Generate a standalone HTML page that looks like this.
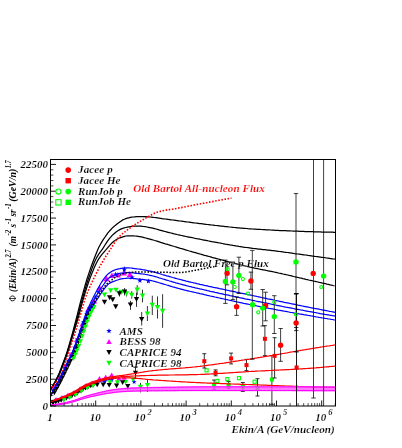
<!DOCTYPE html>
<html><head><meta charset="utf-8"><title>flux</title>
<style>html,body{margin:0;padding:0;background:#fff;}svg{display:block;will-change:transform;}text{font-family:"Liberation Serif",serif;font-weight:bold;font-style:italic;stroke:#fff;stroke-width:0.16px;paint-order:fill stroke;}</style>
</head><body>
<svg width="402" height="448" viewBox="0 0 402 448">
<rect width="402" height="448" fill="#fff"/>
<defs><clipPath id="cp"><rect x="50.5" y="159.5" width="285" height="246.5"/></clipPath></defs>
<g clip-path="url(#cp)">
<path d="M53.5 387.8L54.1 389.5L56 389.6L54.5 390.7L55 392.5L53.5 391.5L52 392.5L52.5 390.7L51 389.6L52.9 389.5Z" fill="#0000ff"/>
<path d="M56.5 382.4L57.1 384.1L59 384.2L57.5 385.3L58 387.1L56.5 386.1L55 387.1L55.5 385.3L54 384.2L55.9 384.1Z" fill="#0000ff"/>
<path d="M59.5 376.7L60.1 378.5L62 378.5L60.5 379.7L61 381.4L59.5 380.4L58 381.4L58.5 379.7L57 378.5L58.9 378.5Z" fill="#0000ff"/>
<path d="M62.5 370.8L63.1 372.5L65 372.6L63.5 373.7L64 375.5L62.5 374.5L61 375.5L61.5 373.7L60 372.6L61.9 372.5Z" fill="#0000ff"/>
<path d="M65.5 364.5L66.1 366.3L68 366.3L66.5 367.5L67 369.2L65.5 368.2L64 369.2L64.5 367.5L63 366.3L64.9 366.3Z" fill="#0000ff"/>
<path d="M68.5 358.3L69.1 360L71 360.1L69.5 361.2L70 363L68.5 362L67 363L67.5 361.2L66 360.1L67.9 360Z" fill="#0000ff"/>
<path d="M71.5 352L72.1 353.7L74 353.8L72.5 354.9L73 356.7L71.5 355.7L70 356.7L70.5 354.9L69 353.8L70.9 353.7Z" fill="#0000ff"/>
<path d="M74.5 344.9L75.1 346.6L77 346.7L75.5 347.8L76 349.6L74.5 348.6L73 349.6L73.5 347.8L72 346.7L73.9 346.6Z" fill="#0000ff"/>
<path d="M77.5 336.5L78.1 338.3L80 338.3L78.5 339.5L79 341.2L77.5 340.2L76 341.2L76.5 339.5L75 338.3L76.9 338.3Z" fill="#0000ff"/>
<path d="M80.5 328L81.1 329.7L83 329.7L81.5 330.9L82 332.7L80.5 331.6L79 332.7L79.5 330.9L78 329.7L79.9 329.7Z" fill="#0000ff"/>
<path d="M83.5 319.3L84.1 321L86 321.1L84.5 322.3L85 324L83.5 323L82 324L82.5 322.3L81 321.1L82.9 321Z" fill="#0000ff"/>
<path d="M86.5 311.2L87.1 312.9L89 313L87.5 314.1L88 315.9L86.5 314.9L85 315.9L85.5 314.1L84 313L85.9 312.9Z" fill="#0000ff"/>
<path d="M89.5 305.3L90.1 307L92 307.1L90.5 308.2L91 310L89.5 309L88 310L88.5 308.2L87 307.1L88.9 307Z" fill="#0000ff"/>
<path d="M92.5 300.1L93.1 301.8L95 301.9L93.5 303L94 304.8L92.5 303.8L91 304.8L91.5 303L90 301.9L91.9 301.8Z" fill="#0000ff"/>
<path d="M95.5 294.7L96.1 296.4L98 296.5L96.5 297.6L97 299.4L95.5 298.4L94 299.4L94.5 297.6L93 296.5L94.9 296.4Z" fill="#0000ff"/>
<path d="M98.5 289.5L99.1 291.2L101 291.3L99.5 292.4L100 294.2L98.5 293.2L97 294.2L97.5 292.4L96 291.3L97.9 291.2Z" fill="#0000ff"/>
<path d="M51.9 389.3L56.7 389.3L54.3 385Z" fill="#ff00ff"/>
<path d="M57.4 379L62.2 379L59.8 374.7Z" fill="#ff00ff"/>
<path d="M62.9 367.7L67.7 367.7L65.3 363.4Z" fill="#ff00ff"/>
<path d="M68.4 356.2L73.2 356.2L70.8 351.9Z" fill="#ff00ff"/>
<path d="M73.9 342.2L78.7 342.2L76.3 337.9Z" fill="#ff00ff"/>
<path d="M79.4 326.5L84.2 326.5L81.8 322.2Z" fill="#ff00ff"/>
<path d="M84.9 312.2L89.7 312.2L87.3 307.9Z" fill="#ff00ff"/>
<path d="M51.8 390.5L57 390.5L54.4 395.2Z" fill="#000000"/>
<path d="M53.8 386.9L59 386.9L56.4 391.6Z" fill="#000000"/>
<path d="M55.8 383.3L61 383.3L58.4 388Z" fill="#000000"/>
<path d="M57.8 379.5L63 379.5L60.4 384.2Z" fill="#000000"/>
<path d="M59.8 375.6L65 375.6L62.4 380.3Z" fill="#000000"/>
<path d="M61.8 371.6L67 371.6L64.4 376.2Z" fill="#000000"/>
<path d="M63.8 367.4L69 367.4L66.4 372.1Z" fill="#000000"/>
<path d="M65.8 363.2L71 363.2L68.4 367.9Z" fill="#000000"/>
<path d="M67.8 359.1L73 359.1L70.4 363.8Z" fill="#000000"/>
<path d="M69.8 354.9L75 354.9L72.4 359.6Z" fill="#000000"/>
<path d="M71.8 350.4L77 350.4L74.4 355.1Z" fill="#000000"/>
<path d="M73.8 345.4L79 345.4L76.4 350.1Z" fill="#000000"/>
<path d="M75.8 339.8L81 339.8L78.4 344.5Z" fill="#000000"/>
<path d="M77.8 334L83 334L80.4 338.7Z" fill="#000000"/>
<path d="M79.8 328.4L85 328.4L82.4 333.1Z" fill="#000000"/>
<path d="M81.8 322.6L87 322.6L84.4 327.3Z" fill="#000000"/>
<path d="M83.8 316.9L89 316.9L86.4 321.6Z" fill="#000000"/>
<path d="M85.8 311.9L91 311.9L88.4 316.6Z" fill="#000000"/>
<path d="M87.8 308L93 308L90.4 312.7Z" fill="#000000"/>
<path d="M89.8 304.6L95 304.6L92.4 309.3Z" fill="#000000"/>
<path d="M70.8 356.2L76.2 356.2L73.5 361Z" fill="#00ff00"/>
<path d="M72.5 352.5L77.9 352.5L75.2 357.3Z" fill="#00ff00"/>
<path d="M74.2 348.5L79.6 348.5L76.9 353.3Z" fill="#00ff00"/>
<path d="M75.9 344L81.3 344L78.6 348.8Z" fill="#00ff00"/>
<path d="M77.6 339.2L83 339.2L80.3 344Z" fill="#00ff00"/>
<path d="M79.3 334.2L84.7 334.2L82 339.1Z" fill="#00ff00"/>
<path d="M81 329.4L86.4 329.4L83.7 334.3Z" fill="#00ff00"/>
<path d="M82.7 324.6L88.1 324.6L85.4 329.4Z" fill="#00ff00"/>
<path d="M84.4 319.6L89.8 319.6L87.1 324.5Z" fill="#00ff00"/>
<path d="M86.1 315L91.5 315L88.8 319.8Z" fill="#00ff00"/>
<path d="M87.8 311L93.2 311L90.5 315.9Z" fill="#00ff00"/>
<path d="M89.5 307.9L94.9 307.9L92.2 312.7Z" fill="#00ff00"/>
<path d="M91.2 305L96.6 305L93.9 309.8Z" fill="#00ff00"/>
<path d="M90.9 303.5L97.1 303.5L94 297.9Z" fill="#ff00ff"/>
<path d="M96.5 290.5L102.7 290.5L99.6 284.9Z" fill="#ff00ff"/>
<path d="M103.4 281.2L109.6 281.2L106.5 275.6Z" fill="#ff00ff"/>
<path d="M108.8 278.1L115 278.1L111.9 272.5Z" fill="#ff00ff"/>
<path d="M114.8 277.5L121 277.5L117.9 271.9Z" fill="#ff00ff"/>
<path d="M120.8 275.5L127 275.5L123.9 269.9Z" fill="#ff00ff"/>
<path d="M126.8 276.9L133 276.9L129.9 271.3Z" fill="#ff00ff"/>
<path d="M115.7 271.6L116.4 273.4L118.4 273.5L116.8 274.8L117.3 276.7L115.7 275.6L114.1 276.7L114.6 274.8L113 273.5L115 273.4Z" fill="#0000ff"/>
<path d="M124.3 266.5L124.3 272.5" stroke="#0000ff" stroke-width="0.8" />
<path d="M124.3 266.7L125 268.5L127 268.6L125.4 269.9L125.9 271.8L124.3 270.7L122.7 271.8L123.2 269.9L121.6 268.6L123.6 268.5Z" fill="#0000ff"/>
<path d="M132 274.6L132.7 276.4L134.7 276.5L133.1 277.8L133.6 279.7L132 278.6L130.4 279.7L130.9 277.8L129.3 276.5L131.3 276.4Z" fill="#0000ff"/>
<path d="M139.9 277.8L140.6 279.6L142.6 279.7L141 281L141.5 282.9L139.9 281.8L138.3 282.9L138.8 281L137.2 279.7L139.2 279.6Z" fill="#0000ff"/>
<path d="M148.4 278.4L149.1 280.2L151.1 280.3L149.5 281.6L150 283.5L148.4 282.4L146.8 283.5L147.3 281.6L145.7 280.3L147.7 280.2Z" fill="#0000ff"/>
<path d="M101.8 292.4L107.2 292.4L104.5 297.3Z" fill="#00ff00"/>
<path d="M108 288.2L113.4 288.2L110.7 293.1Z" fill="#00ff00"/>
<path d="M113.3 287.8L118.7 287.8L116 292.7Z" fill="#00ff00"/>
<path d="M121.6 291L121.6 294" stroke="#000000" stroke-width="0.8" />
<path d="M118.9 289.8L124.3 289.8L121.6 294.7Z" fill="#00ff00"/>
<path d="M126.5 290.5L126.5 296.5" stroke="#000000" stroke-width="0.8" />
<path d="M123.8 291.2L129.2 291.2L126.5 296.1Z" fill="#00ff00"/>
<path d="M131.7 291.2L131.7 298.7" stroke="#000000" stroke-width="0.8" />
<path d="M129 292.7L134.4 292.7L131.7 297.6Z" fill="#00ff00"/>
<path d="M137.2 285.2L137.2 295" stroke="#000000" stroke-width="0.8" />
<path d="M134.5 287.5L139.9 287.5L137.2 292.4Z" fill="#00ff00"/>
<path d="M142.5 289.7L142.5 302.4" stroke="#000000" stroke-width="0.8" />
<path d="M139.8 293.5L145.2 293.5L142.5 298.4Z" fill="#00ff00"/>
<path d="M147.4 306L147.4 321" stroke="#000000" stroke-width="0.8" />
<path d="M144.7 311.4L150.1 311.4L147.4 316.3Z" fill="#00ff00"/>
<path d="M152.3 295.7L152.3 315" stroke="#000000" stroke-width="0.8" />
<path d="M149.6 302.8L155 302.8L152.3 307.7Z" fill="#00ff00"/>
<path d="M157.5 296.4L157.5 318.5" stroke="#000000" stroke-width="0.8" />
<path d="M154.8 305L160.2 305L157.5 309.9Z" fill="#00ff00"/>
<path d="M162.6 294.2L162.6 327.8" stroke="#000000" stroke-width="0.8" />
<path d="M159.9 308.8L165.3 308.8L162.6 313.7Z" fill="#00ff00"/>
<path d="M101.8 299.8L107.2 299.8L104.5 304.7Z" fill="#000000"/>
<path d="M107 295.3L112.4 295.3L109.7 300.2Z" fill="#000000"/>
<path d="M110 297.3L115.4 297.3L112.7 302.2Z" fill="#000000"/>
<path d="M113 304.3L118.4 304.3L115.7 309.2Z" fill="#000000"/>
<path d="M119.4 290.5L119.4 296.5" stroke="#000000" stroke-width="0.8" />
<path d="M116.7 291.3L122.1 291.3L119.4 296.2Z" fill="#000000"/>
<path d="M124.6 288L124.6 295.5" stroke="#000000" stroke-width="0.8" />
<path d="M121.9 289.4L127.3 289.4L124.6 294.3Z" fill="#000000"/>
<path d="M130.5 300.9L130.5 309.9" stroke="#000000" stroke-width="0.8" />
<path d="M127.8 302.4L133.2 302.4L130.5 307.3Z" fill="#000000"/>
<path d="M136.5 292.7L136.5 306.9" stroke="#000000" stroke-width="0.8" />
<path d="M133.8 296.9L139.2 296.9L136.5 301.8Z" fill="#000000"/>
<path d="M141.7 312L141.7 325.5" stroke="#000000" stroke-width="0.8" />
<path d="M139 316.9L144.4 316.9L141.7 321.8Z" fill="#000000"/>
<path d="M52 399.2L52.6 400.8L54.4 400.9L53 402L53.5 403.7L52 402.7L50.5 403.7L51 402L49.6 400.9L51.4 400.8Z" fill="#0000ff"/>
<path d="M55 398.2L55.6 399.9L57.4 399.9L56 401L56.5 402.7L55 401.8L53.5 402.7L54 401L52.6 399.9L54.4 399.9Z" fill="#0000ff"/>
<path d="M58 397.2L58.6 398.9L60.4 398.9L59 400L59.5 401.7L58 400.8L56.5 401.7L57 400L55.6 398.9L57.4 398.9Z" fill="#0000ff"/>
<path d="M61 396.1L61.6 397.8L63.4 397.9L62 399L62.5 400.7L61 399.7L59.5 400.7L60 399L58.6 397.9L60.4 397.8Z" fill="#0000ff"/>
<path d="M64 395L64.6 396.7L66.4 396.7L65 397.8L65.5 399.5L64 398.6L62.5 399.5L63 397.8L61.6 396.7L63.4 396.7Z" fill="#0000ff"/>
<path d="M67 393.8L67.6 395.5L69.4 395.6L68 396.7L68.5 398.4L67 397.4L65.5 398.4L66 396.7L64.6 395.6L66.4 395.5Z" fill="#0000ff"/>
<path d="M70 392.6L70.6 394.2L72.4 394.3L71 395.4L71.5 397.1L70 396.1L68.5 397.1L69 395.4L67.6 394.3L69.4 394.2Z" fill="#0000ff"/>
<path d="M73 391.2L73.6 392.9L75.4 392.9L74 394L74.5 395.7L73 394.8L71.5 395.7L72 394L70.6 392.9L72.4 392.9Z" fill="#0000ff"/>
<path d="M76 389.6L76.6 391.2L78.4 391.3L77 392.4L77.5 394.1L76 393.1L74.5 394.1L75 392.4L73.6 391.3L75.4 391.2Z" fill="#0000ff"/>
<path d="M79 387.7L79.6 389.3L81.4 389.4L80 390.5L80.5 392.2L79 391.2L77.5 392.2L78 390.5L76.6 389.4L78.4 389.3Z" fill="#0000ff"/>
<path d="M82 385.8L82.6 387.4L84.4 387.5L83 388.6L83.5 390.3L82 389.3L80.5 390.3L81 388.6L79.6 387.5L81.4 387.4Z" fill="#0000ff"/>
<path d="M85 384.1L85.6 385.8L87.4 385.9L86 387L86.5 388.7L85 387.7L83.5 388.7L84 387L82.6 385.9L84.4 385.8Z" fill="#0000ff"/>
<path d="M88 382.8L88.6 384.4L90.4 384.5L89 385.6L89.5 387.3L88 386.3L86.5 387.3L87 385.6L85.6 384.5L87.4 384.4Z" fill="#0000ff"/>
<path d="M91 381.5L91.6 383.2L93.4 383.3L92 384.4L92.5 386.1L91 385.1L89.5 386.1L90 384.4L88.6 383.3L90.4 383.2Z" fill="#0000ff"/>
<path d="M94 380.4L94.6 382.1L96.4 382.1L95 383.2L95.5 384.9L94 384L92.5 384.9L93 383.2L91.6 382.1L93.4 382.1Z" fill="#0000ff"/>
<path d="M97 379.4L97.6 381.1L99.4 381.1L98 382.2L98.5 383.9L97 383L95.5 383.9L96 382.2L94.6 381.1L96.4 381.1Z" fill="#0000ff"/>
<path d="M100 378.5L100.6 380.1L102.4 380.2L101 381.3L101.5 383L100 382L98.5 383L99 381.3L97.6 380.2L99.4 380.1Z" fill="#0000ff"/>
<path d="M103 377.6L103.6 379.3L105.4 379.4L104 380.5L104.5 382.2L103 381.2L101.5 382.2L102 380.5L100.6 379.4L102.4 379.3Z" fill="#0000ff"/>
<path d="M106 376.9L106.6 378.5L108.4 378.6L107 379.7L107.5 381.4L106 380.4L104.5 381.4L105 379.7L103.6 378.6L105.4 378.5Z" fill="#0000ff"/>
<path d="M109 376.3L109.6 377.9L111.4 378L110 379.1L110.5 380.8L109 379.8L107.5 380.8L108 379.1L106.6 378L108.4 377.9Z" fill="#0000ff"/>
<path d="M53.5 401.6L58.5 401.6L56 397.1Z" fill="#ff00ff"/>
<path d="M59.5 399.5L64.5 399.5L62 395Z" fill="#ff00ff"/>
<path d="M65.5 397.1L70.5 397.1L68 392.6Z" fill="#ff00ff"/>
<path d="M71.5 394.4L76.5 394.4L74 389.9Z" fill="#ff00ff"/>
<path d="M77.5 390.7L82.5 390.7L80 386.2Z" fill="#ff00ff"/>
<path d="M83.5 387.4L88.5 387.4L86 382.9Z" fill="#ff00ff"/>
<path d="M89.5 384.9L94.5 384.9L92 380.4Z" fill="#ff00ff"/>
<path d="M50.5 400.9L55.5 400.9L53 405.4Z" fill="#000000"/>
<path d="M53.2 400.1L58.2 400.1L55.7 404.6Z" fill="#000000"/>
<path d="M55.9 399.2L60.9 399.2L58.4 403.7Z" fill="#000000"/>
<path d="M58.6 398.2L63.6 398.2L61.1 402.7Z" fill="#000000"/>
<path d="M61.3 397.2L66.3 397.2L63.8 401.7Z" fill="#000000"/>
<path d="M64 396.1L69 396.1L66.5 400.6Z" fill="#000000"/>
<path d="M66.7 395L71.7 395L69.2 399.5Z" fill="#000000"/>
<path d="M69.4 393.8L74.4 393.8L71.9 398.3Z" fill="#000000"/>
<path d="M72.1 392.5L77.1 392.5L74.6 397Z" fill="#000000"/>
<path d="M74.8 390.9L79.8 390.9L77.3 395.4Z" fill="#000000"/>
<path d="M77.5 389.1L82.5 389.1L80 393.6Z" fill="#000000"/>
<path d="M80.2 387.5L85.2 387.5L82.7 392Z" fill="#000000"/>
<path d="M82.9 386L87.9 386L85.4 390.5Z" fill="#000000"/>
<path d="M85.6 384.8L90.6 384.8L88.1 389.3Z" fill="#000000"/>
<path d="M88.3 383.7L93.3 383.7L90.8 388.2Z" fill="#000000"/>
<path d="M91 382.7L96 382.7L93.5 387.2Z" fill="#000000"/>
<path d="M61.5 397.9L66.5 397.9L64 402.4Z" fill="#00ff00"/>
<path d="M67.3 395.6L72.3 395.6L69.8 400.1Z" fill="#00ff00"/>
<path d="M73.1 392.9L78.1 392.9L75.6 397.4Z" fill="#00ff00"/>
<path d="M78.9 389.3L83.9 389.3L81.4 393.8Z" fill="#00ff00"/>
<path d="M84.7 386.1L89.7 386.1L87.2 390.6Z" fill="#00ff00"/>
<path d="M90.5 383.7L95.5 383.7L93 388.2Z" fill="#00ff00"/>
<path d="M96.9 380.8L102.1 380.8L99.5 376.1Z" fill="#ff00ff"/>
<path d="M103.1 379.3L108.3 379.3L105.7 374.6Z" fill="#ff00ff"/>
<path d="M109.1 377.1L114.3 377.1L111.7 372.4Z" fill="#ff00ff"/>
<path d="M116.3 380.5L121.5 380.5L118.9 375.8Z" fill="#ff00ff"/>
<path d="M121.5 379.7L126.7 379.7L124.1 375Z" fill="#ff00ff"/>
<path d="M104.7 379L105.3 380.7L107.2 380.8L105.7 381.9L106.2 383.7L104.7 382.7L103.2 383.7L103.7 381.9L102.2 380.8L104.1 380.7Z" fill="#0000ff"/>
<path d="M111.7 377.4L112.3 379.1L114.2 379.2L112.7 380.3L113.2 382.1L111.7 381.1L110.2 382.1L110.7 380.3L109.2 379.2L111.1 379.1Z" fill="#0000ff"/>
<path d="M134.1 379.4L134.7 381.1L136.6 381.2L135.1 382.3L135.6 384.1L134.1 383.1L132.6 384.1L133.1 382.3L131.6 381.2L133.5 381.1Z" fill="#0000ff"/>
<path d="M107.4 380.3L112.6 380.3L110 385Z" fill="#00ff00"/>
<path d="M114.8 380.3L120 380.3L117.4 385Z" fill="#00ff00"/>
<path d="M123 379.9L128.2 379.9L125.6 384.6Z" fill="#00ff00"/>
<path d="M130.4 377.4L135.6 377.4L133 382.1Z" fill="#00ff00"/>
<path d="M140.5 382.9L140.5 392.4" stroke="#000000" stroke-width="0.8" />
<path d="M137.9 384.8L143.1 384.8L140.5 389.5Z" fill="#00ff00"/>
<path d="M147.5 380L147.5 392" stroke="#000000" stroke-width="0.8" />
<path d="M144.9 382.9L150.1 382.9L147.5 387.6Z" fill="#00ff00"/>
<path d="M94.6 382.5L99.8 382.5L97.2 387.2Z" fill="#000000"/>
<path d="M100.6 382.5L105.8 382.5L103.2 387.2Z" fill="#000000"/>
<path d="M106.6 382.9L111.8 382.9L109.2 387.6Z" fill="#000000"/>
<path d="M114 383.6L119.2 383.6L116.6 388.3Z" fill="#000000"/>
<path d="M120 380.3L125.2 380.3L122.6 385Z" fill="#000000"/>
<path d="M127.8 384.1L127.8 390.1" stroke="#000000" stroke-width="0.8" />
<path d="M125.2 384L130.4 384L127.8 388.7Z" fill="#000000"/>
<path d="M135.5 367.4L135.5 378.4" stroke="#000000" stroke-width="0.8" />
<path d="M133.5 367.4L137.5 367.4" stroke="#000000" stroke-width="0.8" />
<path d="M133.5 378.4L137.5 378.4" stroke="#000000" stroke-width="0.8" />
<path d="M132.9 370.8L138.1 370.8L135.5 375.5Z" fill="#000000"/>
</g>
<g clip-path="url(#cp)">
<path d="M214.1 380L214.1 389.3" stroke="#000000" stroke-width="0.8" />
<path d="M212.1 380L216.1 380" stroke="#000000" stroke-width="0.8" />
<path d="M212.1 389.3L216.1 389.3" stroke="#000000" stroke-width="0.8" />
<rect x="212.1" y="382.8" width="4" height="4" fill="#00ff00"/>
<path d="M228.6 381.5L228.6 388.2" stroke="#000000" stroke-width="0.8" />
<path d="M226.6 381.5L230.6 381.5" stroke="#000000" stroke-width="0.8" />
<path d="M226.6 388.2L230.6 388.2" stroke="#000000" stroke-width="0.8" />
<rect x="226.6" y="382.8" width="4" height="4" fill="#00ff00"/>
<path d="M242.8 382.5L242.8 391.5" stroke="#000000" stroke-width="0.8" />
<path d="M240.8 382.5L244.8 382.5" stroke="#000000" stroke-width="0.8" />
<path d="M240.8 391.5L244.8 391.5" stroke="#000000" stroke-width="0.8" />
<rect x="240.8" y="384.6" width="4" height="4" fill="#00ff00"/>
<path d="M257.5 378.7L257.5 396" stroke="#000000" stroke-width="0.8" />
<path d="M255.5 378.7L259.5 378.7" stroke="#000000" stroke-width="0.8" />
<path d="M255.5 396L259.5 396" stroke="#000000" stroke-width="0.8" />
<rect x="255.5" y="386" width="4" height="4" fill="#00ff00"/>
<path d="M271.9 355.6L271.9 404.3" stroke="#000000" stroke-width="0.8" />
<path d="M269.9 355.6L273.9 355.6" stroke="#000000" stroke-width="0.8" />
<path d="M269.9 404.3L273.9 404.3" stroke="#000000" stroke-width="0.8" />
<rect x="269.9" y="377.5" width="4" height="4" fill="#00ff00"/>
<rect x="205" y="368.8" width="3.1" height="3.1" fill="none" stroke="#00ff00" stroke-width="1.1"/>
<rect x="215.8" y="379.4" width="3.1" height="3.1" fill="none" stroke="#00ff00" stroke-width="1.1"/>
<rect x="225.8" y="377.6" width="3.1" height="3.1" fill="none" stroke="#00ff00" stroke-width="1.1"/>
<rect x="237.4" y="376.6" width="3.1" height="3.1" fill="none" stroke="#00ff00" stroke-width="1.1"/>
<rect x="253.1" y="380.2" width="3.1" height="3.1" fill="none" stroke="#00ff00" stroke-width="1.1"/>
<path d="M204.3 353.7L204.3 368" stroke="#000000" stroke-width="0.8" />
<path d="M202.3 353.7L206.3 353.7" stroke="#000000" stroke-width="0.8" />
<path d="M202.3 368L206.3 368" stroke="#000000" stroke-width="0.8" />
<path d="M215.6 369.9L215.6 375.8" stroke="#000000" stroke-width="0.8" />
<path d="M213.6 369.9L217.6 369.9" stroke="#000000" stroke-width="0.8" />
<path d="M213.6 375.8L217.6 375.8" stroke="#000000" stroke-width="0.8" />
<path d="M231.1 353.1L231.1 363.9" stroke="#000000" stroke-width="0.8" />
<path d="M229.1 353.1L233.1 353.1" stroke="#000000" stroke-width="0.8" />
<path d="M229.1 363.9L233.1 363.9" stroke="#000000" stroke-width="0.8" />
<path d="M246.5 359.4L246.5 370.6" stroke="#000000" stroke-width="0.8" />
<path d="M244.5 359.4L248.5 359.4" stroke="#000000" stroke-width="0.8" />
<path d="M244.5 370.6L248.5 370.6" stroke="#000000" stroke-width="0.8" />
<path d="M264.9 325.7L264.9 355.6" stroke="#000000" stroke-width="0.8" />
<path d="M262.9 325.7L266.9 325.7" stroke="#000000" stroke-width="0.8" />
<path d="M262.9 355.6L266.9 355.6" stroke="#000000" stroke-width="0.8" />
<path d="M274.6 337.7L274.6 378" stroke="#000000" stroke-width="0.8" />
<path d="M272.6 337.7L276.6 337.7" stroke="#000000" stroke-width="0.8" />
<path d="M272.6 378L276.6 378" stroke="#000000" stroke-width="0.8" />
</g>
<g clip-path="url(#cp)">
<path d="M50.4 389.4 51.9 387.3 53.4 384.8 54.9 382.1 56.4 379.2 57.9 376 59.4 372.7 60.9 368.8 62.4 364.7 63.9 360.6 65.5 356.4 67 352 68.5 347.2 70 342 71.5 336.6 73 331.1 74.5 325.5 76 319.7 77.5 313.9 79 307.8 80.5 301.8 82.1 296.1 83.6 290.6 85.1 285.3 86.6 280.3 88.1 275.6 89.6 271.1 91.1 266.8 92.6 262.7 94.1 258.7 95.6 254.9 97.1 251.2 98.6 247.8 100.2 244.7 101.7 242.1 103.2 239.7 104.7 237.5 106.2 235.3 107.7 233.2 109.2 231.3 110.7 229.7 112.2 228.1 113.7 226.7 115.2 225.4 116.7 224.2 118.3 223 119.8 221.9 121.3 220.9 122.8 219.9 124.3 219.2 125.8 218.6 127.3 218.2 128.8 217.8 130.3 217.4 131.8 217.2 133.3 217 134.9 216.8 136.4 216.7 137.9 216.6 139.4 216.5 140.9 216.5 142.4 216.5 143.9 216.6 145.4 216.7 146.9 216.8 148.4 216.9 149.9 217 151.4 217.1 153 217.3 154.5 217.5 156 217.7 157.5 217.9 159 218.1 160.5 218.3 162 218.6 163.5 218.8 165 219 166.5 219.2 168 219.4 169.6 219.6 171.1 219.8 172.6 220 174.1 220.2 175.6 220.4 177.1 220.6 178.6 220.8 180.1 221 181.6 221.2 183.1 221.4 184.6 221.6 186.1 221.8 187.7 222 189.2 222.2 190.7 222.4 192.2 222.6 193.7 222.8 195.2 223 196.7 223.2 198.2 223.4 199.7 223.6 201.2 223.7 202.7 223.9 204.2 224.1 205.8 224.3 207.3 224.5 208.8 224.6 210.3 224.8 211.8 225 213.3 225.2 214.8 225.4 216.3 225.5 217.8 225.7 219.3 225.9 220.8 226.1 222.4 226.2 223.9 226.4 225.4 226.6 226.9 226.7 228.4 226.9 229.9 227 231.4 227.2 232.9 227.3 234.4 227.5 235.9 227.6 237.4 227.8 238.9 227.9 240.5 228.1 242 228.2 243.5 228.3 245 228.4 246.5 228.5 248 228.7 249.5 228.8 251 228.9 252.5 229 254 229.1 255.5 229.2 257.1 229.3 258.6 229.3 260.1 229.4 261.6 229.5 263.1 229.6 264.6 229.7 266.1 229.8 267.6 229.9 269.1 229.9 270.6 230 272.1 230.1 273.6 230.2 275.2 230.3 276.7 230.3 278.2 230.4 279.7 230.5 281.2 230.5 282.7 230.6 284.2 230.7 285.7 230.7 287.2 230.8 288.7 230.9 290.2 230.9 291.7 231 293.3 231.1 294.8 231.1 296.3 231.2 297.8 231.2 299.3 231.3 300.8 231.3 302.3 231.4 303.8 231.4 305.3 231.5 306.8 231.5 308.3 231.6 309.9 231.6 311.4 231.7 312.9 231.7 314.4 231.8 315.9 231.8 317.4 231.9 318.9 231.9 320.4 231.9 321.9 232 323.4 232 324.9 232.1 326.4 232.1 328 232.1 329.5 232.2 331 232.2 332.5 232.2 334 232.3 335.5 232.3" fill="none" stroke="#000" stroke-width="1.25" />
<path d="M50.4 389.6 51.9 387.5 53.4 385.1 54.9 382.4 56.4 379.6 57.9 376.5 59.4 373.3 60.9 369.6 62.4 365.6 64 361.5 65.5 357.4 67 353.1 68.5 348.5 70 343.6 71.5 338.4 73 333.1 74.5 327.9 76 322.5 77.5 317.1 79 311.5 80.5 305.6 82.1 299.8 83.6 294.4 85.1 289.2 86.6 284.3 88.1 279.6 89.6 275.2 91.1 271 92.6 266.9 94.1 263.1 95.6 259.7 97.1 256.8 98.6 254.4 100.2 252.2 101.7 250.1 103.2 247.9 104.7 245.5 106.2 243.1 107.7 240.9 109.2 238.9 110.7 237.1 112.2 235.4 113.7 234 115.2 232.7 116.7 231.5 118.3 230.5 119.8 229.6 121.3 228.9 122.8 228.3 124.3 227.9 125.8 227.5 127.3 227.1 128.8 226.8 130.3 226.6 131.8 226.4 133.3 226.2 134.8 226 136.4 226 137.9 226 139.4 226.1 140.9 226.2 142.4 226.3 143.9 226.5 145.4 226.7 146.9 227 148.4 227.3 149.9 227.6 151.4 227.9 152.9 228.2 154.4 228.6 156 229 157.5 229.4 159 229.9 160.5 230.3 162 230.7 163.5 231.1 165 231.5 166.5 231.9 168 232.3 169.5 232.7 171 233 172.5 233.4 174.1 233.8 175.6 234.1 177.1 234.5 178.6 234.8 180.1 235.2 181.6 235.5 183.1 235.8 184.6 236.2 186.1 236.5 187.6 236.8 189.1 237.1 190.6 237.4 192.2 237.7 193.7 238 195.2 238.4 196.7 238.7 198.2 238.9 199.7 239.2 201.2 239.5 202.7 239.8 204.2 240.1 205.7 240.4 207.2 240.7 208.7 241 210.3 241.3 211.8 241.6 213.3 241.8 214.8 242.1 216.3 242.4 217.8 242.7 219.3 243 220.8 243.2 222.3 243.5 223.8 243.8 225.3 244.1 226.8 244.3 228.4 244.6 229.9 244.9 231.4 245.1 232.9 245.4 234.4 245.6 235.9 245.9 237.4 246.1 238.9 246.4 240.4 246.6 241.9 246.8 243.4 247.1 244.9 247.3 246.5 247.5 248 247.7 249.5 247.9 251 248.1 252.5 248.3 254 248.5 255.5 248.7 257 248.9 258.5 249.1 260 249.2 261.5 249.4 263 249.6 264.6 249.7 266.1 249.9 267.6 250.1 269.1 250.2 270.6 250.4 272.1 250.6 273.6 250.7 275.1 250.9 276.6 251.1 278.1 251.3 279.6 251.5 281.1 251.6 282.7 251.8 284.2 252.1 285.7 252.3 287.2 252.5 288.7 252.7 290.2 252.9 291.7 253.1 293.2 253.3 294.7 253.6 296.2 253.8 297.7 254 299.2 254.2 300.8 254.4 302.3 254.6 303.8 254.8 305.3 255 306.8 255.2 308.3 255.5 309.8 255.7 311.3 255.9 312.8 256.1 314.3 256.3 315.8 256.5 317.3 256.7 318.8 256.9 320.4 257.1 321.9 257.3 323.4 257.5 324.9 257.7 326.4 258 327.9 258.2 329.4 258.4 330.9 258.6 332.4 258.8 333.9 259 335.4 259.2" fill="none" stroke="#000" stroke-width="1.25" />
<path d="M50.4 389.8 51.9 387.7 53.4 385.4 54.9 382.8 56.4 380 57.9 377 59.5 373.9 61 370.4 62.5 366.5 64 362.5 65.5 358.5 67 354.3 68.5 349.9 70 345.2 71.5 340.1 73.1 334.9 74.6 329.8 76.1 324.7 77.6 319.7 79.1 314.5 80.6 309 82.1 303.2 83.6 297.8 85.1 292.7 86.7 287.8 88.2 283.2 89.7 279 91.2 275.1 92.7 271.4 94.2 267.8 95.7 264.5 97.2 261.5 98.7 258.9 100.3 256.6 101.8 254.6 103.3 252.8 104.8 251.1 106.3 249.4 107.8 247.6 109.3 245.8 110.8 244.1 112.4 242.5 113.9 241.3 115.4 240.3 116.9 239.3 118.4 238.5 119.9 237.8 121.4 237.3 122.9 236.8 124.4 236.3 126 236 127.5 235.8 129 235.8 130.5 235.8 132 235.9 133.5 235.9 135 236 136.5 236.1 138 236.3 139.6 236.6 141.1 236.9 142.6 237.2 144.1 237.6 145.6 238 147.1 238.4 148.6 238.8 150.1 239.2 151.6 239.6 153.2 240 154.7 240.5 156.2 240.9 157.7 241.4 159.2 241.9 160.7 242.4 162.2 242.8 163.7 243.3 165.2 243.8 166.8 244.2 168.3 244.7 169.8 245.1 171.3 245.6 172.8 246 174.3 246.5 175.8 246.9 177.3 247.4 178.8 247.8 180.4 248.3 181.9 248.7 183.4 249.2 184.9 249.6 186.4 250.1 187.9 250.5 189.4 251 190.9 251.4 192.4 251.9 194 252.3 195.5 252.7 197 253.2 198.5 253.6 200 254 201.5 254.4 203 254.8 204.5 255.3 206 255.7 207.6 256.1 209.1 256.5 210.6 256.9 212.1 257.4 213.6 257.8 215.1 258.2 216.6 258.6 218.1 259 219.6 259.4 221.2 259.8 222.7 260.2 224.2 260.7 225.7 261.1 227.2 261.5 228.7 261.9 230.2 262.2 231.7 262.6 233.2 263 234.8 263.4 236.3 263.8 237.8 264.2 239.3 264.6 240.8 264.9 242.3 265.3 243.8 265.7 245.3 266 246.8 266.4 248.4 266.7 249.9 267.1 251.4 267.4 252.9 267.7 254.4 268.1 255.9 268.4 257.4 268.7 258.9 269 260.5 269.3 262 269.6 263.5 269.9 265 270.2 266.5 270.5 268 270.8 269.5 271.1 271 271.4 272.5 271.7 274.1 272 275.6 272.3 277.1 272.6 278.6 273 280.1 273.3 281.6 273.6 283.1 274 284.6 274.3 286.1 274.7 287.7 275 289.2 275.4 290.7 275.7 292.2 276.1 293.7 276.5 295.2 276.8 296.7 277.2 298.2 277.5 299.7 277.9 301.3 278.2 302.8 278.6 304.3 278.9 305.8 279.3 307.3 279.6 308.8 280 310.3 280.3 311.8 280.6 313.3 281 314.9 281.3 316.4 281.7 317.9 282 319.4 282.4 320.9 282.7 322.4 283.1 323.9 283.4 325.4 283.7 326.9 284.1 328.5 284.4 330 284.8 331.5 285.1 333 285.5 334.5 285.8" fill="none" stroke="#000" stroke-width="1.25" />
<path d="M50.4 390.2 51.4 388.8 52.4 387.3 53.4 385.9 54.4 384.4 55.4 382.9 56.4 381.5 57.5 380.1 58.5 378.6 59.5 377.1 60.5 375.3 61.5 373.3 62.5 370.9 63.5 368.3 64.5 365.6 65.5 362.8 66.5 359.8 67.5 356.7 68.5 353.4 69.5 350.2 70.5 347.1 71.5 344 72.5 340.9 73.5 337.8 74.6 334.6 75.6 331.4 76.6 328.1 77.6 324.8 78.6 321.4 79.6 317.9 80.6 314.5 81.6 311 82.6 307.2 83.6 303.6 84.6 300.2 85.6 297.4 86.6 294.7 87.6 292.1 88.6 289.7 89.6 287.4 90.7 285.1 91.7 282.9 92.7 280.8 93.7 278.6 94.7 276.5 95.7 274.5 96.7 272.5 97.7 270.6 98.7 268.7 99.7 266.8 100.7 265 101.7 263.2 102.7 261.5 103.7 259.8 104.7 258.1 105.7 256.5 106.7 255 107.8 253.4 108.8 251.9 109.8 250.4 110.8 248.8 111.8 247.2 112.8 245.5 113.8 243.9 114.8 242.4 115.8 240.9 116.8 239.5 117.8 238.3 118.8 237.2 119.8 236.2 120.8 235.3 121.8 234.3 122.8 233.5 123.9 232.6 124.9 231.8 125.9 231 126.9 230.3 127.9 229.5 128.9 228.8 129.9 228.1 130.9 227.4 131.9 226.7 132.9 226 133.9 225.3 134.9 224.7 135.9 224 136.9 223.4 137.9 222.8 138.9 222.2 139.9 221.5 141 220.9 142 220.3 143 219.7 144 219.1 145 218.5 146 217.9 147 217.4 148 216.8 149 216.2 150 215.7 151 215.1 152 214.5 153 214 154 213.5 155 213.1 156 212.7 157.1 212.3 158.1 212 159.1 211.7 160.1 211.4 161.1 211.1 162.1 210.9 163.1 210.7 164.1 210.5 165.1 210.3 166.1 210.1 167.1 209.9 168.1 209.8 169.1 209.6 170.1 209.5 171.1 209.3 172.1 209.2 173.1 209 174.2 208.8 175.2 208.7 176.2 208.5 177.2 208.3 178.2 208.1 179.2 207.9 180.2 207.7 181.2 207.6 182.2 207.4 183.2 207.2 184.2 207 185.2 206.8 186.2 206.6 187.2 206.4 188.2 206.2 189.2 206 190.3 205.8 191.3 205.6 192.3 205.4 193.3 205.2 194.3 205 195.3 204.8 196.3 204.6 197.3 204.4 198.3 204.2 199.3 204 200.3 203.8 201.3 203.7 202.3 203.5 203.3 203.3 204.3 203.1 205.3 202.9 206.3 202.7 207.4 202.5 208.4 202.3 209.4 202.1 210.4 201.9 211.4 201.8 212.4 201.6 213.4 201.4 214.4 201.2 215.4 201 216.4 200.8 217.4 200.6 218.4 200.4 219.4 200.2 220.4 200.1 221.4 199.9 222.4 199.7 223.5 199.5 224.5 199.3 225.5 199.1 226.5 198.9 227.5 198.7 228.5 198.6 229.5 198.4 230.5 198.2 231.5 198" fill="none" stroke="#ff0000" stroke-width="1.6" stroke-dasharray="1.55 1.6" />
<path d="M50.5 395.2 52 392.6 53.5 390 55 387.3 56.5 384.6 58 381.7 59.5 378.8 61.1 375.9 62.6 372.8 64.1 369.7 65.6 366.5 67.1 363.3 68.6 360.2 70.1 357 71.6 353.7 73.1 350.2 74.6 346.3 76.1 342.1 77.6 337.8 79.2 333.3 80.7 329 82.2 324.5 83.7 319.9 85.2 315.5 86.7 311.5 88.2 308 89.7 304.8 91.2 301.6 92.7 298.6 94.2 295.6 95.7 292.7 97.2 289.9 98.8 287.1 100.3 284.3 101.8 281.8 103.3 279.6 104.8 277.6 106.3 275.7 107.8 274.2 109.3 273 110.8 272 112.3 271.1 113.8 270.4 115.3 269.8 116.8 269.3 118.4 268.9 119.9 268.7 121.4 268.4 122.9 268.2 124.4 268 125.9 267.9 127.4 267.9 128.9 267.9 130.4 268 131.9 268.2 133.4 268.4 134.9 268.6 136.5 268.8 138 269 139.5 269.2 141 269.4 142.5 269.7 144 269.9 145.5 270.2 147 270.5 148.5 270.8 150 271.1 151.5 271.4 153 271.8 154.5 272.2 156.1 272.7 157.6 273.1 159.1 273.5 160.6 274 162.1 274.5 163.6 274.9 165.1 275.3 166.6 275.8 168.1 276.2 169.6 276.6 171.1 277 172.6 277.5 174.2 277.9 175.7 278.3 177.2 278.7 178.7 279.2 180.2 279.5 181.7 279.9 183.2 280.3 184.7 280.7 186.2 281.1 187.7 281.4 189.2 281.8 190.7 282.2 192.2 282.5 193.8 282.9 195.3 283.2 196.8 283.6 198.3 283.9 199.8 284.3 201.3 284.6 202.8 284.9 204.3 285.3 205.8 285.6 207.3 285.9 208.8 286.3 210.3 286.6 211.8 286.9 213.4 287.3 214.9 287.6 216.4 287.9 217.9 288.2 219.4 288.6 220.9 288.9 222.4 289.2 223.9 289.5 225.4 289.8 226.9 290.2 228.4 290.5 229.9 290.8 231.5 291.1 233 291.4 234.5 291.7 236 292.1 237.5 292.4 239 292.7 240.5 293 242 293.3 243.5 293.6 245 293.9 246.5 294.3 248 294.6 249.5 294.9 251.1 295.2 252.6 295.5 254.1 295.9 255.6 296.2 257.1 296.5 258.6 296.8 260.1 297.1 261.6 297.5 263.1 297.8 264.6 298.1 266.1 298.4 267.6 298.8 269.2 299.1 270.7 299.4 272.2 299.7 273.7 300 275.2 300.4 276.7 300.7 278.2 301 279.7 301.3 281.2 301.6 282.7 301.9 284.2 302.3 285.7 302.6 287.2 302.9 288.8 303.2 290.3 303.5 291.8 303.8 293.3 304.1 294.8 304.4 296.3 304.7 297.8 305.1 299.3 305.4 300.8 305.7 302.3 306 303.8 306.3 305.3 306.6 306.8 306.9 308.4 307.2 309.9 307.5 311.4 307.8 312.9 308.1 314.4 308.4 315.9 308.6 317.4 308.9 318.9 309.2 320.4 309.5 321.9 309.8 323.4 310.1 324.9 310.4 326.5 310.7 328 311 329.5 311.3 331 311.5 332.5 311.8 334 312.1 335.5 312.4" fill="none" stroke="#0000ff" stroke-width="1.2" />
<path d="M50.5 395.5 52 393 53.5 390.3 55 387.7 56.5 384.9 58 382.1 59.5 379.2 61.1 376.3 62.6 373.2 64.1 370.1 65.6 367 67.1 363.8 68.6 360.7 70.1 357.6 71.6 354.3 73.1 350.9 74.6 347.2 76.1 343 77.6 338.7 79.2 334.4 80.7 330.1 82.2 325.8 83.7 321.4 85.2 317.2 86.7 313.4 88.2 310.2 89.7 307.6 91.2 305 92.7 302.3 94.2 299.5 95.7 296.8 97.2 294.2 98.8 291.7 100.3 289.3 101.8 287.1 103.3 285 104.8 282.9 106.3 280.7 107.8 279 109.3 277.8 110.8 276.8 112.3 276 113.8 275.4 115.3 274.7 116.8 274.2 118.4 273.7 119.9 273.4 121.4 273.2 122.9 273 124.4 272.8 125.9 272.7 127.4 272.6 128.9 272.6 130.4 272.7 131.9 272.8 133.4 272.9 134.9 273.1 136.5 273.3 138 273.5 139.5 273.6 141 273.8 142.5 274 144 274.2 145.5 274.5 147 274.7 148.5 275 150 275.3 151.5 275.6 153 276 154.5 276.4 156.1 276.8 157.6 277.3 159.1 277.8 160.6 278.2 162.1 278.7 163.6 279.2 165.1 279.6 166.6 280.1 168.1 280.5 169.6 281 171.1 281.4 172.6 281.9 174.2 282.3 175.7 282.8 177.2 283.2 178.7 283.6 180.2 284 181.7 284.4 183.2 284.8 184.7 285.2 186.2 285.6 187.7 286 189.2 286.4 190.7 286.7 192.2 287.1 193.8 287.4 195.3 287.8 196.8 288.1 198.3 288.5 199.8 288.9 201.3 289.2 202.8 289.5 204.3 289.9 205.8 290.2 207.3 290.6 208.8 290.9 210.3 291.3 211.8 291.6 213.4 291.9 214.9 292.3 216.4 292.6 217.9 292.9 219.4 293.3 220.9 293.6 222.4 293.9 223.9 294.3 225.4 294.6 226.9 294.9 228.4 295.2 229.9 295.6 231.5 295.9 233 296.2 234.5 296.5 236 296.9 237.5 297.2 239 297.5 240.5 297.8 242 298.1 243.5 298.4 245 298.8 246.5 299.1 248 299.4 249.5 299.7 251.1 300 252.6 300.3 254.1 300.6 255.6 301 257.1 301.3 258.6 301.6 260.1 301.9 261.6 302.2 263.1 302.5 264.6 302.8 266.1 303.1 267.6 303.4 269.2 303.7 270.7 304 272.2 304.4 273.7 304.7 275.2 305 276.7 305.3 278.2 305.6 279.7 305.9 281.2 306.2 282.7 306.5 284.2 306.8 285.7 307.1 287.2 307.3 288.8 307.6 290.3 307.9 291.8 308.2 293.3 308.5 294.8 308.8 296.3 309.1 297.8 309.4 299.3 309.7 300.8 310 302.3 310.2 303.8 310.5 305.3 310.8 306.8 311.1 308.4 311.4 309.9 311.6 311.4 311.9 312.9 312.2 314.4 312.5 315.9 312.7 317.4 313 318.9 313.3 320.4 313.6 321.9 313.8 323.4 314.1 324.9 314.4 326.5 314.6 328 314.9 329.5 315.2 331 315.4 332.5 315.7 334 315.9 335.5 316.2" fill="none" stroke="#0000ff" stroke-width="1.2" />
<path d="M50.5 395.8 52 393.3 53.5 390.7 55 388 56.5 385.3 58 382.5 59.5 379.7 61.1 376.7 62.6 373.7 64.1 370.6 65.6 367.5 67.1 364.3 68.6 361.2 70.1 358.1 71.6 355 73.1 351.6 74.6 347.9 76.1 343.9 77.6 339.6 79.2 335.3 80.7 331.2 82.2 327.1 83.7 323 85.2 318.9 86.7 315.3 88.2 312.2 89.7 309.8 91.2 307.8 92.7 305.9 94.2 303.8 95.7 301.5 97.2 299.2 98.8 296.8 100.3 294.5 101.8 292.2 103.3 290.1 104.8 288.1 106.3 286.3 107.8 284.6 109.3 283.4 110.8 282.6 112.3 281.9 113.8 281.4 115.3 280.8 116.8 280.2 118.4 279.7 119.9 279.2 121.4 278.9 122.9 278.7 124.4 278.5 125.9 278.3 127.4 278.2 128.9 278.2 130.4 278.3 131.9 278.4 133.4 278.5 134.9 278.6 136.5 278.8 138 279 139.5 279.1 141 279.3 142.5 279.4 144 279.6 145.5 279.8 147 280 148.5 280.2 150 280.4 151.5 280.7 153 281 154.5 281.4 156.1 281.8 157.6 282.2 159.1 282.7 160.6 283.2 162.1 283.6 163.6 284.1 165.1 284.5 166.6 285 168.1 285.4 169.6 285.9 171.1 286.3 172.6 286.8 174.2 287.2 175.7 287.7 177.2 288.1 178.7 288.5 180.2 288.9 181.7 289.3 183.2 289.7 184.7 290.1 186.2 290.4 187.7 290.8 189.2 291.2 190.7 291.5 192.2 291.8 193.8 292.2 195.3 292.5 196.8 292.9 198.3 293.2 199.8 293.6 201.3 293.9 202.8 294.2 204.3 294.6 205.8 294.9 207.3 295.3 208.8 295.6 210.3 296 211.8 296.3 213.4 296.6 214.9 297 216.4 297.3 217.9 297.7 219.4 298 220.9 298.3 222.4 298.7 223.9 299 225.4 299.4 226.9 299.7 228.4 300 229.9 300.4 231.5 300.7 233 301 234.5 301.3 236 301.7 237.5 302 239 302.3 240.5 302.6 242 302.9 243.5 303.3 245 303.6 246.5 303.9 248 304.2 249.5 304.5 251.1 304.8 252.6 305.1 254.1 305.4 255.6 305.7 257.1 306 258.6 306.3 260.1 306.6 261.6 306.9 263.1 307.2 264.6 307.5 266.1 307.8 267.6 308.1 269.2 308.4 270.7 308.6 272.2 308.9 273.7 309.2 275.2 309.5 276.7 309.8 278.2 310.1 279.7 310.3 281.2 310.6 282.7 310.9 284.2 311.2 285.7 311.4 287.2 311.7 288.8 312 290.3 312.3 291.8 312.5 293.3 312.8 294.8 313.1 296.3 313.3 297.8 313.6 299.3 313.9 300.8 314.1 302.3 314.4 303.8 314.7 305.3 314.9 306.8 315.2 308.4 315.5 309.9 315.7 311.4 316 312.9 316.2 314.4 316.5 315.9 316.8 317.4 317 318.9 317.3 320.4 317.5 321.9 317.8 323.4 318 324.9 318.3 326.5 318.5 328 318.8 329.5 319 331 319.3 332.5 319.5 334 319.8 335.5 320" fill="none" stroke="#0000ff" stroke-width="1.2" />
<path d="M50.5 396 51.5 394.6 52.5 393.1 53.5 391.6 54.5 390 55.5 388.4 56.5 386.7 57.5 385 58.5 383.3 59.6 381.5 60.6 379.7 61.6 377.8 62.6 375.8 63.6 373.7 64.6 371.7 65.6 369.6 66.6 367.4 67.6 365.3 68.6 363.2 69.6 361.2 70.6 359.1 71.6 357 72.6 354.9 73.6 352.7 74.6 350.4 75.7 347.9 76.7 345.3 77.7 342.6 78.7 339.8 79.7 337 80.7 334.1 81.7 331.2 82.7 328.2 83.7 324.9 84.7 321.5 85.7 318.2 86.7 315.1 87.7 312.6 88.7 310.6 89.7 309 90.7 307.6 91.8 306.3 92.8 304.8 93.8 303.2 94.8 301.5 95.8 299.9 96.8 298.3 97.8 296.7 98.8 295 99.8 293.4 100.8 291.8 101.8 290.3 102.8 288.9 103.8 287.6 104.8 286.3 105.8 285.2 106.8 284.1 107.8 283.1 108.9 282.2 109.9 281.3 110.9 280.6 111.9 279.8 112.9 279 113.9 278.3 114.9 277.7 115.9 277.1 116.9 276.6 117.9 276.1 118.9 275.7 119.9 275.2 120.9 274.7 121.9 274.2 122.9 273.8 123.9 273.5 125 273.1 126 272.9 127 272.7 128 272.6 129 272.5 130 272.4 131 272.4 132 272.3 133 272.2 134 272.2 135 272.1 136 272.1 137 272 138 272 139 272 140 271.9 141.1 271.9 142.1 271.9 143.1 271.9 144.1 271.9 145.1 271.9 146.1 271.9 147.1 272 148.1 272 149.1 272 150.1 272 151.1 272 152.1 272 153.1 272.1 154.1 272.1 155.1 272.1 156.1 272.1 157.2 272.1 158.2 272.2 159.2 272.2 160.2 272.2 161.2 272.2 162.2 272.2 163.2 272.3 164.2 272.3 165.2 272.3 166.2 272.3 167.2 272.3 168.2 272.4 169.2 272.4 170.2 272.4 171.2 272.4 172.2 272.4 173.2 272.4 174.3 272.5 175.3 272.5 176.3 272.5 177.3 272.5 178.3 272.5 179.3 272.5 180.3 272.5 181.3 272.5 182.3 272.4 183.3 272.3 184.3 272.2 185.3 272.1 186.3 271.9 187.3 271.7 188.3 271.6 189.3 271.4 190.4 271.2 191.4 271 192.4 270.8 193.4 270.6 194.4 270.4 195.4 270.2 196.4 270.1 197.4 269.9 198.4 269.7 199.4 269.5 200.4 269.3 201.4 269.1 202.4 268.9 203.4 268.7 204.4 268.5 205.4 268.3 206.5 268.1 207.5 267.9 208.5 267.7 209.5 267.5 210.5 267.3 211.5 267.1 212.5 266.9 213.5 266.7 214.5 266.5" fill="none" stroke="#000" stroke-width="1.5" stroke-dasharray="1.55 1.6" />
<path d="M50.5 401.5 52 401 53.5 400.4 55 399.9 56.5 399.3 58 398.7 59.5 398.2 61.1 397.5 62.6 396.9 64.1 396.3 65.6 395.7 67.1 395 68.6 394.3 70.1 393.6 71.6 392.9 73.1 392.1 74.6 391.3 76.1 390.4 77.6 389.5 79.2 388.5 80.7 387.6 82.2 386.7 83.7 385.8 85.2 385 86.7 384.4 88.2 383.7 89.7 383.1 91.2 382.5 92.7 381.9 94.2 381.3 95.7 380.8 97.2 380.3 98.8 379.9 100.3 379.4 101.8 379 103.3 378.6 104.8 378.2 106.3 377.9 107.8 377.5 109.3 377.2 110.8 377 112.3 376.7 113.8 376.5 115.3 376.3 116.8 376.1 118.4 375.9 119.9 375.7 121.4 375.5 122.9 375.3 124.4 375.1 125.9 374.9 127.4 374.6 128.9 374.4 130.4 374.2 131.9 373.9 133.4 373.7 134.9 373.4 136.5 373.2 138 372.9 139.5 372.7 141 372.4 142.5 372.2 144 371.9 145.5 371.7 147 371.5 148.5 371.2 150 371 151.5 370.8 153 370.6 154.5 370.5 156.1 370.3 157.6 370.1 159.1 370 160.6 369.8 162.1 369.7 163.6 369.5 165.1 369.4 166.6 369.3 168.1 369.2 169.6 369 171.1 368.9 172.6 368.8 174.2 368.7 175.7 368.6 177.2 368.5 178.7 368.3 180.2 368.2 181.7 368.1 183.2 368 184.7 367.9 186.2 367.7 187.7 367.6 189.2 367.5 190.7 367.3 192.2 367.2 193.8 367 195.3 366.9 196.8 366.7 198.3 366.5 199.8 366.4 201.3 366.2 202.8 366 204.3 365.8 205.8 365.6 207.3 365.4 208.8 365.2 210.3 365 211.8 364.8 213.4 364.6 214.9 364.4 216.4 364.2 217.9 364 219.4 363.7 220.9 363.5 222.4 363.3 223.9 363.1 225.4 362.8 226.9 362.6 228.4 362.4 229.9 362.1 231.5 361.9 233 361.7 234.5 361.4 236 361.2 237.5 361 239 360.7 240.5 360.5 242 360.2 243.5 360 245 359.8 246.5 359.5 248 359.3 249.5 359.1 251.1 358.8 252.6 358.6 254.1 358.4 255.6 358.1 257.1 357.9 258.6 357.6 260.1 357.4 261.6 357.1 263.1 356.9 264.6 356.6 266.1 356.4 267.6 356.1 269.2 355.9 270.7 355.6 272.2 355.4 273.7 355.1 275.2 354.8 276.7 354.6 278.2 354.3 279.7 354.1 281.2 353.8 282.7 353.5 284.2 353.3 285.7 353 287.2 352.8 288.8 352.5 290.3 352.2 291.8 352 293.3 351.7 294.8 351.5 296.3 351.2 297.8 350.9 299.3 350.7 300.8 350.4 302.3 350.2 303.8 349.9 305.3 349.7 306.8 349.4 308.4 349.2 309.9 348.9 311.4 348.7 312.9 348.4 314.4 348.2 315.9 347.9 317.4 347.7 318.9 347.5 320.4 347.2 321.9 347 323.4 346.7 324.9 346.5 326.5 346.2 328 346 329.5 345.8 331 345.5 332.5 345.3 334 345 335.5 344.8" fill="none" stroke="#ff0000" stroke-width="1.2" />
<path d="M50.5 401.5 52 401.1 53.5 400.6 55 400.1 56.5 399.6 58 399.1 59.5 398.6 61.1 398 62.6 397.5 64.1 396.9 65.6 396.3 67.1 395.7 68.6 395.1 70.1 394.4 71.6 393.8 73.1 393 74.6 392.3 76.1 391.4 77.6 390.4 79.2 389.5 80.7 388.5 82.2 387.6 83.7 386.7 85.2 385.9 86.7 385.3 88.2 384.6 89.7 384 91.2 383.4 92.7 382.8 94.2 382.2 95.7 381.7 97.2 381.2 98.8 380.8 100.3 380.3 101.8 379.9 103.3 379.5 104.8 379.1 106.3 378.7 107.8 378.4 109.3 378.1 110.8 377.9 112.3 377.7 113.8 377.5 115.3 377.3 116.8 377.2 118.4 377 119.9 376.9 121.4 376.7 122.9 376.6 124.4 376.5 125.9 376.4 127.4 376.4 128.9 376.3 130.4 376.2 131.9 376.1 133.4 376 134.9 376 136.5 375.9 138 375.8 139.5 375.8 141 375.7 142.5 375.7 144 375.6 145.5 375.6 147 375.5 148.5 375.5 150 375.4 151.5 375.4 153 375.4 154.5 375.3 156.1 375.3 157.6 375.2 159.1 375.2 160.6 375.2 162.1 375.1 163.6 375.1 165.1 375.1 166.6 375.1 168.1 375.1 169.6 375 171.1 375 172.6 375 174.2 375 175.7 374.9 177.2 374.9 178.7 374.9 180.2 374.9 181.7 374.9 183.2 374.8 184.7 374.8 186.2 374.8 187.7 374.8 189.2 374.7 190.7 374.7 192.2 374.7 193.8 374.6 195.3 374.6 196.8 374.6 198.3 374.5 199.8 374.5 201.3 374.4 202.8 374.3 204.3 374.3 205.8 374.2 207.3 374.1 208.8 374.1 210.3 374 211.8 373.9 213.4 373.8 214.9 373.7 216.4 373.6 217.9 373.5 219.4 373.4 220.9 373.4 222.4 373.3 223.9 373.2 225.4 373.1 226.9 373 228.4 372.9 229.9 372.8 231.5 372.7 233 372.6 234.5 372.5 236 372.4 237.5 372.3 239 372.2 240.5 372.1 242 372 243.5 371.9 245 371.8 246.5 371.7 248 371.6 249.5 371.5 251.1 371.4 252.6 371.4 254.1 371.3 255.6 371.2 257.1 371.1 258.6 371 260.1 371 261.6 370.9 263.1 370.8 264.6 370.8 266.1 370.7 267.6 370.6 269.2 370.5 270.7 370.5 272.2 370.4 273.7 370.3 275.2 370.2 276.7 370.2 278.2 370.1 279.7 370 281.2 369.9 282.7 369.9 284.2 369.8 285.7 369.7 287.2 369.6 288.8 369.6 290.3 369.5 291.8 369.4 293.3 369.3 294.8 369.2 296.3 369.2 297.8 369.1 299.3 369 300.8 368.9 302.3 368.8 303.8 368.7 305.3 368.6 306.8 368.5 308.4 368.4 309.9 368.3 311.4 368.2 312.9 368.1 314.4 368 315.9 367.9 317.4 367.7 318.9 367.6 320.4 367.5 321.9 367.3 323.4 367.2 324.9 367 326.5 366.9 328 366.8 329.5 366.6 331 366.5 332.5 366.3 334 366.2 335.5 366" fill="none" stroke="#ff0000" stroke-width="1.2" />
<path d="M50.5 401.5 52 401.1 53.5 400.7 55 400.3 56.5 399.9 58 399.4 59.5 399 61.1 398.5 62.6 398 64.1 397.5 65.6 397 67.1 396.4 68.6 395.8 70.1 395.2 71.6 394.6 73.1 393.9 74.6 393.2 76.1 392.3 77.6 391.4 79.2 390.4 80.7 389.5 82.2 388.5 83.7 387.6 85.2 386.9 86.7 386.2 88.2 385.5 89.7 384.9 91.2 384.3 92.7 383.7 94.2 383.1 95.7 382.6 97.2 382.1 98.8 381.7 100.3 381.2 101.8 380.8 103.3 380.3 104.8 379.9 106.3 379.5 107.8 379.2 109.3 379 110.8 378.8 112.3 378.6 113.8 378.5 115.3 378.3 116.8 378.2 118.4 378.1 119.9 378 121.4 377.9 122.9 377.8 124.4 377.8 125.9 377.8 127.4 377.8 128.9 377.9 130.4 377.9 131.9 378 133.4 378.1 134.9 378.2 136.5 378.3 138 378.5 139.5 378.6 141 378.7 142.5 378.9 144 379 145.5 379.2 147 379.3 148.5 379.5 150 379.6 151.5 379.7 153 379.9 154.5 380 156.1 380.1 157.6 380.2 159.1 380.3 160.6 380.4 162.1 380.5 163.6 380.6 165.1 380.7 166.6 380.8 168.1 380.9 169.6 381 171.1 381.1 172.6 381.2 174.2 381.3 175.7 381.4 177.2 381.5 178.7 381.6 180.2 381.7 181.7 381.8 183.2 381.9 184.7 381.9 186.2 382 187.7 382.1 189.2 382.2 190.7 382.3 192.2 382.4 193.8 382.4 195.3 382.5 196.8 382.6 198.3 382.7 199.8 382.7 201.3 382.8 202.8 382.9 204.3 382.9 205.8 383 207.3 383.1 208.8 383.1 210.3 383.2 211.8 383.2 213.4 383.3 214.9 383.4 216.4 383.4 217.9 383.5 219.4 383.5 220.9 383.6 222.4 383.6 223.9 383.7 225.4 383.7 226.9 383.8 228.4 383.8 229.9 383.9 231.5 384 233 384 234.5 384.1 236 384.1 237.5 384.2 239 384.2 240.5 384.3 242 384.3 243.5 384.4 245 384.4 246.5 384.5 248 384.5 249.5 384.6 251.1 384.7 252.6 384.7 254.1 384.8 255.6 384.8 257.1 384.9 258.6 384.9 260.1 385 261.6 385.1 263.1 385.1 264.6 385.2 266.1 385.2 267.6 385.3 269.2 385.4 270.7 385.4 272.2 385.5 273.7 385.5 275.2 385.6 276.7 385.7 278.2 385.7 279.7 385.8 281.2 385.8 282.7 385.9 284.2 385.9 285.7 386 287.2 386.1 288.8 386.1 290.3 386.2 291.8 386.2 293.3 386.3 294.8 386.3 296.3 386.4 297.8 386.4 299.3 386.5 300.8 386.5 302.3 386.6 303.8 386.6 305.3 386.7 306.8 386.7 308.4 386.8 309.9 386.8 311.4 386.9 312.9 386.9 314.4 386.9 315.9 387 317.4 387 318.9 387.1 320.4 387.1 321.9 387.2 323.4 387.2 324.9 387.2 326.5 387.3 328 387.3 329.5 387.4 331 387.4 332.5 387.4 334 387.5 335.5 387.5" fill="none" stroke="#ff0000" stroke-width="1.2" />
<path d="M50.5 404.4 54.6 404 58.6 403.4 62.7 402.7 66.8 401.8 70.9 400.8 74.9 399.6 79 398.1 83.1 396.6 87.1 395.3 91.2 394.1 95.3 393 99.4 392 103.4 391 107.5 390.1 111.6 389.3 115.6 388.7 119.7 388.2 123.8 387.9 127.9 387.6 131.9 387.3 136 387.2 140.1 387.1 144.1 387 148.2 386.9 152.3 386.8 156.4 386.8 160.4 386.7 164.5 386.6 168.6 386.5 172.6 386.5 176.7 386.4 180.8 386.3 184.9 386.2 188.9 386.2 193 386.1 197.1 386.1 201.1 386.1 205.2 386.1 209.3 386.1 213.4 386.1 217.4 386.1 221.5 386 225.6 386 229.6 386 233.7 386 237.8 386 241.9 386 245.9 386 250 386 254.1 386 258.1 386 262.2 386 266.3 386 270.4 386 274.4 386 278.5 386 282.6 386 286.6 386 290.7 386 294.8 386 298.9 386.1 302.9 386.1 307 386.1 311.1 386.1 315.1 386.1 319.2 386.1 323.3 386.1 327.4 386.2 331.4 386.2 335.5 386.2 L335.5 391.5 331.4 391.5 327.4 391.5 323.3 391.5 319.2 391.4 315.1 391.4 311.1 391.4 307 391.4 302.9 391.4 298.9 391.4 294.8 391.4 290.7 391.3 286.6 391.3 282.6 391.3 278.5 391.3 274.4 391.3 270.4 391.3 266.3 391.3 262.2 391.3 258.1 391.3 254.1 391.3 250 391.3 245.9 391.3 241.9 391.3 237.8 391.3 233.7 391.3 229.6 391.3 225.6 391.3 221.5 391.3 217.4 391.3 213.4 391.3 209.3 391.3 205.2 391.3 201.1 391.3 197.1 391.3 193 391.3 188.9 391.3 184.9 391.3 180.8 391.3 176.7 391.4 172.6 391.4 168.6 391.4 164.5 391.4 160.4 391.5 156.4 391.5 152.3 391.5 148.2 391.6 144.1 391.6 140.1 391.7 136 391.8 131.9 391.9 127.9 392.1 123.8 392.3 119.7 392.6 115.6 393 111.6 393.5 107.5 394.1 103.4 394.8 99.4 395.6 95.3 396.4 91.2 397.3 87.1 398.2 83.1 399.3 79 400.6 74.9 401.9 70.9 402.9 66.8 403.9 62.7 404.7 58.6 405.3 54.6 405.7 50.5 406Z" fill="#ff4dff" opacity="0.76"/>
<path d="M50.5 404.9 54.6 404.4 58.6 403.9 62.7 403.2 66.8 402.3 70.9 401.3 74.9 400.2 79 398.7 83.1 397.2 87.1 395.9 91.2 394.7 95.3 393.7 99.4 392.6 103.4 391.7 107.5 390.8 111.6 390.1 115.6 389.5 119.7 389 123.8 388.6 127.9 388.3 131.9 388.1 136 388 140.1 387.8 144.1 387.8 148.2 387.7 152.3 387.6 156.4 387.6 160.4 387.5 164.5 387.4 168.6 387.3 172.6 387.3 176.7 387.2 180.8 387.1 184.9 387.1 188.9 387 193 387 197.1 387 201.1 386.9 205.2 386.9 209.3 386.9 213.4 386.9 217.4 386.9 221.5 386.9 225.6 386.9 229.6 386.9 233.7 386.9 237.8 386.9 241.9 386.9 245.9 386.9 250 386.9 254.1 386.9 258.1 386.9 262.2 386.9 266.3 386.9 270.4 386.9 274.4 386.9 278.5 386.9 282.6 386.9 286.6 386.9 290.7 386.9 294.8 386.9 298.9 386.9 302.9 386.9 307 386.9 311.1 386.9 315.1 387 319.2 387 323.3 387 327.4 387 331.4 387 335.5 387.1" fill="none" stroke="#ff00ff" stroke-width="1.0" />
<path d="M50.5 405.5 54.6 405.2 58.6 404.7 62.7 404.2 66.8 403.4 70.9 402.4 74.9 401.3 79 400 83.1 398.7 87.1 397.6 91.2 396.6 95.3 395.8 99.4 394.9 103.4 394.1 107.5 393.4 111.6 392.8 115.6 392.2 119.7 391.8 123.8 391.5 127.9 391.3 131.9 391.1 136 391 140.1 390.9 144.1 390.8 148.2 390.8 152.3 390.7 156.4 390.7 160.4 390.7 164.5 390.6 168.6 390.6 172.6 390.6 176.7 390.5 180.8 390.5 184.9 390.5 188.9 390.5 193 390.5 197.1 390.5 201.1 390.5 205.2 390.5 209.3 390.5 213.4 390.5 217.4 390.5 221.5 390.5 225.6 390.5 229.6 390.5 233.7 390.5 237.8 390.5 241.9 390.5 245.9 390.5 250 390.5 254.1 390.5 258.1 390.5 262.2 390.5 266.3 390.5 270.4 390.5 274.4 390.5 278.5 390.5 282.6 390.5 286.6 390.5 290.7 390.5 294.8 390.5 298.9 390.5 302.9 390.5 307 390.5 311.1 390.6 315.1 390.6 319.2 390.6 323.3 390.6 327.4 390.6 331.4 390.6 335.5 390.6" fill="none" stroke="#ff00ff" stroke-width="1.0" />
</g>
<g clip-path="url(#cp)">
<path d="M225.4 260.1L225.4 303.4" stroke="#000000" stroke-width="0.75" />
<path d="M223.2 260.1L227.6 260.1" stroke="#000000" stroke-width="0.75" />
<path d="M223.2 303.4L227.6 303.4" stroke="#000000" stroke-width="0.75" />
<path d="M232.9 262L232.9 299.6" stroke="#000000" stroke-width="0.75" />
<path d="M230.7 262L235.1 262" stroke="#000000" stroke-width="0.75" />
<path d="M230.7 299.6L235.1 299.6" stroke="#000000" stroke-width="0.75" />
<path d="M238.9 257.2L238.9 293.5" stroke="#000000" stroke-width="0.75" />
<path d="M236.7 257.2L241.1 257.2" stroke="#000000" stroke-width="0.75" />
<path d="M236.7 293.5L241.1 293.5" stroke="#000000" stroke-width="0.75" />
<path d="M252.3 250.4L252.3 359.2" stroke="#000000" stroke-width="0.75" />
<path d="M250.1 250.4L254.5 250.4" stroke="#000000" stroke-width="0.75" />
<path d="M250.1 359.2L254.5 359.2" stroke="#000000" stroke-width="0.75" />
<path d="M262.7 289.5L262.7 326" stroke="#000000" stroke-width="0.75" />
<path d="M260.5 289.5L264.9 289.5" stroke="#000000" stroke-width="0.75" />
<path d="M260.5 326L264.9 326" stroke="#000000" stroke-width="0.75" />
<path d="M274.3 295.7L274.3 333.5" stroke="#000000" stroke-width="0.75" />
<path d="M272.1 295.7L276.5 295.7" stroke="#000000" stroke-width="0.75" />
<path d="M272.1 333.5L276.5 333.5" stroke="#000000" stroke-width="0.75" />
<path d="M296 193.6L296 294" stroke="#000000" stroke-width="0.75" />
<path d="M293.8 193.6L298.2 193.6" stroke="#000000" stroke-width="0.75" />
<path d="M293.8 294L298.2 294" stroke="#000000" stroke-width="0.75" />
<path d="M323.6 159.5L323.6 406" stroke="#000000" stroke-width="0.75" />
<path d="M227 262L227 284.8" stroke="#000000" stroke-width="0.75" />
<path d="M224.8 262L229.2 262" stroke="#000000" stroke-width="0.75" />
<path d="M224.8 284.8L229.2 284.8" stroke="#000000" stroke-width="0.75" />
<path d="M236.6 297L236.6 315.4" stroke="#000000" stroke-width="0.75" />
<path d="M234.4 297L238.8 297" stroke="#000000" stroke-width="0.75" />
<path d="M234.4 315.4L238.8 315.4" stroke="#000000" stroke-width="0.75" />
<path d="M250.9 272.1L250.9 289.3" stroke="#000000" stroke-width="0.75" />
<path d="M248.7 272.1L253.1 272.1" stroke="#000000" stroke-width="0.75" />
<path d="M248.7 289.3L253.1 289.3" stroke="#000000" stroke-width="0.75" />
<path d="M265.6 292.2L265.6 320.8" stroke="#000000" stroke-width="0.75" />
<path d="M263.4 292.2L267.8 292.2" stroke="#000000" stroke-width="0.75" />
<path d="M263.4 320.8L267.8 320.8" stroke="#000000" stroke-width="0.75" />
<path d="M280.6 328.5L280.6 361.3" stroke="#000000" stroke-width="0.75" />
<path d="M278.4 328.5L282.8 328.5" stroke="#000000" stroke-width="0.75" />
<path d="M278.4 361.3L282.8 361.3" stroke="#000000" stroke-width="0.75" />
<path d="M296.2 293.5L296.2 330.6" stroke="#000000" stroke-width="0.75" />
<path d="M294 293.5L298.4 293.5" stroke="#000000" stroke-width="0.75" />
<path d="M294 330.6L298.4 330.6" stroke="#000000" stroke-width="0.75" />
<path d="M313.5 159.5L313.5 398" stroke="#000000" stroke-width="0.75" />
<path d="M311.3 398L315.7 398" stroke="#000000" stroke-width="0.75" />
<path d="M294 327.5L298.4 327.5" stroke="#000000" stroke-width="0.75" />
<path d="M296.4 293.7L296.4 351.9" stroke="#000000" stroke-width="1.0" />
<path d="M294.2 293.7L298.6 293.7" stroke="#000000" stroke-width="1.0" />
<path d="M294.2 351.9L298.6 351.9" stroke="#000000" stroke-width="1.0" />
<path d="M296.5 351.9L296.5 406" stroke="#000000" stroke-width="0.9" />
<rect x="202.3" y="359.2" width="4" height="4" fill="#ff0000"/>
<rect x="213.6" y="370.8" width="4" height="4" fill="#ff0000"/>
<rect x="229.1" y="356.4" width="4" height="4" fill="#ff0000"/>
<rect x="244.5" y="363.1" width="4" height="4" fill="#ff0000"/>
<rect x="262.9" y="336.8" width="4" height="4" fill="#ff0000"/>
<rect x="272.6" y="353.9" width="4" height="4" fill="#ff0000"/>
<rect x="294.6" y="365.5" width="4" height="4" fill="#ff0000"/>
<circle cx="227.1" cy="273.2" r="2.7" fill="#ff0000"/>
<circle cx="236.6" cy="306.7" r="2.7" fill="#ff0000"/>
<circle cx="250.9" cy="281" r="2.7" fill="#ff0000"/>
<circle cx="265.6" cy="305.6" r="2.7" fill="#ff0000"/>
<circle cx="280.6" cy="345.2" r="2.7" fill="#ff0000"/>
<circle cx="296.1" cy="323" r="2.7" fill="#ff0000"/>
<circle cx="313.2" cy="273.4" r="2.7" fill="#ff0000"/>
<circle cx="225.4" cy="281.5" r="2.7" fill="#00ff00"/>
<circle cx="232.9" cy="282" r="2.7" fill="#00ff00"/>
<circle cx="238.9" cy="275.4" r="2.7" fill="#00ff00"/>
<circle cx="252.6" cy="304.7" r="2.7" fill="#00ff00"/>
<circle cx="262.7" cy="308.1" r="2.7" fill="#00ff00"/>
<circle cx="274.3" cy="316.6" r="2.7" fill="#00ff00"/>
<circle cx="296" cy="262" r="2.7" fill="#00ff00"/>
<circle cx="323.6" cy="276.1" r="2.7" fill="#00ff00"/>
<circle cx="227.7" cy="269.2" r="1.55" fill="none" stroke="#00ff00" stroke-width="1.1"/>
<circle cx="234.7" cy="287" r="1.55" fill="none" stroke="#00ff00" stroke-width="1.1"/>
<circle cx="242.9" cy="279.1" r="1.55" fill="none" stroke="#00ff00" stroke-width="1.1"/>
<circle cx="248" cy="293.6" r="1.55" fill="none" stroke="#00ff00" stroke-width="1.1"/>
<circle cx="258.2" cy="312.3" r="1.55" fill="none" stroke="#00ff00" stroke-width="1.1"/>
<circle cx="274.3" cy="302.2" r="1.55" fill="none" stroke="#00ff00" stroke-width="1.1"/>
<circle cx="296" cy="314.5" r="1.55" fill="none" stroke="#00ff00" stroke-width="1.1"/>
<circle cx="321.3" cy="287" r="1.55" fill="none" stroke="#00ff00" stroke-width="1.1"/>
</g>
<rect x="50.5" y="159.5" width="285" height="246.5" fill="none" stroke="#000" stroke-width="1"/>
<path d="M50.5 406L56 406" stroke="#000" stroke-width="0.9" />
<path d="M50.5 400.6L53.4 400.6" stroke="#000" stroke-width="0.7" />
<path d="M50.5 395.3L53.4 395.3" stroke="#000" stroke-width="0.7" />
<path d="M50.5 389.9L53.4 389.9" stroke="#000" stroke-width="0.7" />
<path d="M50.5 384.5L53.4 384.5" stroke="#000" stroke-width="0.7" />
<path d="M50.5 379.2L56 379.2" stroke="#000" stroke-width="0.9" />
<path d="M50.5 373.8L53.4 373.8" stroke="#000" stroke-width="0.7" />
<path d="M50.5 368.4L53.4 368.4" stroke="#000" stroke-width="0.7" />
<path d="M50.5 363L53.4 363" stroke="#000" stroke-width="0.7" />
<path d="M50.5 357.7L53.4 357.7" stroke="#000" stroke-width="0.7" />
<path d="M50.5 352.3L56 352.3" stroke="#000" stroke-width="0.9" />
<path d="M50.5 346.9L53.4 346.9" stroke="#000" stroke-width="0.7" />
<path d="M50.5 341.6L53.4 341.6" stroke="#000" stroke-width="0.7" />
<path d="M50.5 336.2L53.4 336.2" stroke="#000" stroke-width="0.7" />
<path d="M50.5 330.8L53.4 330.8" stroke="#000" stroke-width="0.7" />
<path d="M50.5 325.5L56 325.5" stroke="#000" stroke-width="0.9" />
<path d="M50.5 320.1L53.4 320.1" stroke="#000" stroke-width="0.7" />
<path d="M50.5 314.7L53.4 314.7" stroke="#000" stroke-width="0.7" />
<path d="M50.5 309.4L53.4 309.4" stroke="#000" stroke-width="0.7" />
<path d="M50.5 304L53.4 304" stroke="#000" stroke-width="0.7" />
<path d="M50.5 298.6L56 298.6" stroke="#000" stroke-width="0.9" />
<path d="M50.5 293.3L53.4 293.3" stroke="#000" stroke-width="0.7" />
<path d="M50.5 287.9L53.4 287.9" stroke="#000" stroke-width="0.7" />
<path d="M50.5 282.5L53.4 282.5" stroke="#000" stroke-width="0.7" />
<path d="M50.5 277.1L53.4 277.1" stroke="#000" stroke-width="0.7" />
<path d="M50.5 271.8L56 271.8" stroke="#000" stroke-width="0.9" />
<path d="M50.5 266.4L53.4 266.4" stroke="#000" stroke-width="0.7" />
<path d="M50.5 261L53.4 261" stroke="#000" stroke-width="0.7" />
<path d="M50.5 255.7L53.4 255.7" stroke="#000" stroke-width="0.7" />
<path d="M50.5 250.3L53.4 250.3" stroke="#000" stroke-width="0.7" />
<path d="M50.5 244.9L56 244.9" stroke="#000" stroke-width="0.9" />
<path d="M50.5 239.6L53.4 239.6" stroke="#000" stroke-width="0.7" />
<path d="M50.5 234.2L53.4 234.2" stroke="#000" stroke-width="0.7" />
<path d="M50.5 228.8L53.4 228.8" stroke="#000" stroke-width="0.7" />
<path d="M50.5 223.5L53.4 223.5" stroke="#000" stroke-width="0.7" />
<path d="M50.5 218.1L56 218.1" stroke="#000" stroke-width="0.9" />
<path d="M50.5 212.7L53.4 212.7" stroke="#000" stroke-width="0.7" />
<path d="M50.5 207.3L53.4 207.3" stroke="#000" stroke-width="0.7" />
<path d="M50.5 202L53.4 202" stroke="#000" stroke-width="0.7" />
<path d="M50.5 196.6L53.4 196.6" stroke="#000" stroke-width="0.7" />
<path d="M50.5 191.2L56 191.2" stroke="#000" stroke-width="0.9" />
<path d="M50.5 185.9L53.4 185.9" stroke="#000" stroke-width="0.7" />
<path d="M50.5 180.5L53.4 180.5" stroke="#000" stroke-width="0.7" />
<path d="M50.5 175.1L53.4 175.1" stroke="#000" stroke-width="0.7" />
<path d="M50.5 169.8L53.4 169.8" stroke="#000" stroke-width="0.7" />
<path d="M50.5 164.4L56 164.4" stroke="#000" stroke-width="0.9" />
<path d="M50.5 406L50.5 400.5" stroke="#000" stroke-width="0.9" />
<path d="M64.1 406L64.1 403.1" stroke="#000" stroke-width="0.7" />
<path d="M72.1 406L72.1 403.1" stroke="#000" stroke-width="0.7" />
<path d="M77.7 406L77.7 403.1" stroke="#000" stroke-width="0.7" />
<path d="M82.1 406L82.1 403.1" stroke="#000" stroke-width="0.7" />
<path d="M85.7 406L85.7 403.1" stroke="#000" stroke-width="0.7" />
<path d="M88.7 406L88.7 403.1" stroke="#000" stroke-width="0.7" />
<path d="M91.3 406L91.3 403.1" stroke="#000" stroke-width="0.7" />
<path d="M93.6 406L93.6 403.1" stroke="#000" stroke-width="0.7" />
<path d="M95.7 406L95.7 400.5" stroke="#000" stroke-width="0.9" />
<path d="M109.3 406L109.3 403.1" stroke="#000" stroke-width="0.7" />
<path d="M117.3 406L117.3 403.1" stroke="#000" stroke-width="0.7" />
<path d="M122.9 406L122.9 403.1" stroke="#000" stroke-width="0.7" />
<path d="M127.3 406L127.3 403.1" stroke="#000" stroke-width="0.7" />
<path d="M130.9 406L130.9 403.1" stroke="#000" stroke-width="0.7" />
<path d="M133.9 406L133.9 403.1" stroke="#000" stroke-width="0.7" />
<path d="M136.5 406L136.5 403.1" stroke="#000" stroke-width="0.7" />
<path d="M138.8 406L138.8 403.1" stroke="#000" stroke-width="0.7" />
<path d="M140.9 406L140.9 400.5" stroke="#000" stroke-width="0.9" />
<path d="M154.5 406L154.5 403.1" stroke="#000" stroke-width="0.7" />
<path d="M162.5 406L162.5 403.1" stroke="#000" stroke-width="0.7" />
<path d="M168.1 406L168.1 403.1" stroke="#000" stroke-width="0.7" />
<path d="M172.5 406L172.5 403.1" stroke="#000" stroke-width="0.7" />
<path d="M176.1 406L176.1 403.1" stroke="#000" stroke-width="0.7" />
<path d="M179.1 406L179.1 403.1" stroke="#000" stroke-width="0.7" />
<path d="M181.7 406L181.7 403.1" stroke="#000" stroke-width="0.7" />
<path d="M184 406L184 403.1" stroke="#000" stroke-width="0.7" />
<path d="M186.1 406L186.1 400.5" stroke="#000" stroke-width="0.9" />
<path d="M199.7 406L199.7 403.1" stroke="#000" stroke-width="0.7" />
<path d="M207.7 406L207.7 403.1" stroke="#000" stroke-width="0.7" />
<path d="M213.3 406L213.3 403.1" stroke="#000" stroke-width="0.7" />
<path d="M217.7 406L217.7 403.1" stroke="#000" stroke-width="0.7" />
<path d="M221.3 406L221.3 403.1" stroke="#000" stroke-width="0.7" />
<path d="M224.3 406L224.3 403.1" stroke="#000" stroke-width="0.7" />
<path d="M226.9 406L226.9 403.1" stroke="#000" stroke-width="0.7" />
<path d="M229.2 406L229.2 403.1" stroke="#000" stroke-width="0.7" />
<path d="M231.3 406L231.3 400.5" stroke="#000" stroke-width="0.9" />
<path d="M244.9 406L244.9 403.1" stroke="#000" stroke-width="0.7" />
<path d="M252.9 406L252.9 403.1" stroke="#000" stroke-width="0.7" />
<path d="M258.5 406L258.5 403.1" stroke="#000" stroke-width="0.7" />
<path d="M262.9 406L262.9 403.1" stroke="#000" stroke-width="0.7" />
<path d="M266.5 406L266.5 403.1" stroke="#000" stroke-width="0.7" />
<path d="M269.5 406L269.5 403.1" stroke="#000" stroke-width="0.7" />
<path d="M272.1 406L272.1 403.1" stroke="#000" stroke-width="0.7" />
<path d="M274.4 406L274.4 403.1" stroke="#000" stroke-width="0.7" />
<path d="M276.5 406L276.5 400.5" stroke="#000" stroke-width="0.9" />
<path d="M290.1 406L290.1 403.1" stroke="#000" stroke-width="0.7" />
<path d="M298.1 406L298.1 403.1" stroke="#000" stroke-width="0.7" />
<path d="M303.7 406L303.7 403.1" stroke="#000" stroke-width="0.7" />
<path d="M308.1 406L308.1 403.1" stroke="#000" stroke-width="0.7" />
<path d="M311.7 406L311.7 403.1" stroke="#000" stroke-width="0.7" />
<path d="M314.7 406L314.7 403.1" stroke="#000" stroke-width="0.7" />
<path d="M317.3 406L317.3 403.1" stroke="#000" stroke-width="0.7" />
<path d="M319.6 406L319.6 403.1" stroke="#000" stroke-width="0.7" />
<path d="M321.7 406L321.7 400.5" stroke="#000" stroke-width="0.9" />
<path d="M335.3 406L335.3 403.1" stroke="#000" stroke-width="0.7" />
<text x="48" y="409.6" font-size="11" text-anchor="end">0</text>
<text x="48" y="382.8" font-size="11" text-anchor="end">2500</text>
<text x="48" y="355.9" font-size="11" text-anchor="end">5000</text>
<text x="48" y="329.1" font-size="11" text-anchor="end">7500</text>
<text x="48" y="302.2" font-size="11" text-anchor="end">10000</text>
<text x="48" y="275.4" font-size="11" text-anchor="end">12500</text>
<text x="48" y="248.5" font-size="11" text-anchor="end">15000</text>
<text x="48" y="221.7" font-size="11" text-anchor="end">17500</text>
<text x="48" y="194.8" font-size="11" text-anchor="end">20000</text>
<text x="48" y="168" font-size="11" text-anchor="end">22500</text>
<text x="50" y="420.5" font-size="11" text-anchor="middle">1</text>
<text x="95.2" y="420.5" font-size="11" text-anchor="middle">10</text>
<text x="139.9" y="420.5" font-size="11" text-anchor="middle">10</text>
<text x="147.4" y="414.6" font-size="8.5" text-anchor="start">2</text>
<text x="185.1" y="420.5" font-size="11" text-anchor="middle">10</text>
<text x="192.6" y="414.6" font-size="8.5" text-anchor="start">3</text>
<text x="230.3" y="420.5" font-size="11" text-anchor="middle">10</text>
<text x="237.8" y="414.6" font-size="8.5" text-anchor="start">4</text>
<text x="275.5" y="420.5" font-size="11" text-anchor="middle">10</text>
<text x="283" y="414.6" font-size="8.5" text-anchor="start">5</text>
<text x="320.7" y="420.5" font-size="11" text-anchor="middle">10</text>
<text x="328.2" y="414.6" font-size="8.5" text-anchor="start">6</text>
<text x="231.5" y="432.6" font-size="10" textLength="103.3" lengthAdjust="spacingAndGlyphs">Ekin/A (GeV/nucleon)</text>
<g transform="translate(16.2,301.6) rotate(-90)">
<text x="0" y="0" font-size="10.6" textLength="6.3" lengthAdjust="spacingAndGlyphs" style="stroke:none;font-style:normal;font-weight:normal">Φ</text>
<text x="9.5" y="0" font-size="10.6" textLength="34.0" lengthAdjust="spacingAndGlyphs" style="stroke:none">(Ekin/A)</text>
<text x="44" y="-5.2" font-size="8" textLength="8.0" lengthAdjust="spacingAndGlyphs" style="stroke:none">2.7</text>
<text x="55" y="0" font-size="10.6" textLength="10.7" lengthAdjust="spacingAndGlyphs" style="stroke:none">(m</text>
<text x="66.1" y="-5.2" font-size="8" textLength="5.8" lengthAdjust="spacingAndGlyphs" style="stroke:none">-2</text>
<text x="74.2" y="0" font-size="10.6" textLength="3.6" lengthAdjust="spacingAndGlyphs" style="stroke:none">s</text>
<text x="77.7" y="-5.2" font-size="8" textLength="5.8" lengthAdjust="spacingAndGlyphs" style="stroke:none">-1</text>
<text x="85.1" y="0" font-size="10.6" textLength="6.9" lengthAdjust="spacingAndGlyphs" style="stroke:none">sr</text>
<text x="92.5" y="-5.2" font-size="8" textLength="5.8" lengthAdjust="spacingAndGlyphs" style="stroke:none">-1</text>
<text x="99.8" y="0" font-size="10.6" textLength="33.0" lengthAdjust="spacingAndGlyphs" style="stroke:none">(GeV/n)</text>
<text x="133.4" y="-5.2" font-size="8" textLength="8.0" lengthAdjust="spacingAndGlyphs" style="stroke:none">1.7</text>
</g>
<circle cx="68.2" cy="170.1" r="2.8" fill="#ff0000"/>
<rect x="65.5" y="178" width="5.4" height="5.4" fill="#ff0000"/>
<circle cx="58.4" cy="191.6" r="2.55" fill="none" stroke="#00ff00" stroke-width="1.1"/>
<circle cx="68.2" cy="191.6" r="2.8" fill="#00ff00"/>
<rect x="55.8" y="199.7" width="5.3" height="5.3" fill="none" stroke="#00ff00" stroke-width="1.1"/>
<rect x="65.5" y="199.6" width="5.4" height="5.4" fill="#00ff00"/>
<text x="78" y="173.3" font-size="11" textLength="34.7" lengthAdjust="spacing">Jacee p</text>
<text x="78" y="183.9" font-size="11" textLength="42.5" lengthAdjust="spacing">Jacee He</text>
<text x="78" y="194.5" font-size="11" textLength="44.8" lengthAdjust="spacing">RunJob p</text>
<text x="78" y="205.1" font-size="11" textLength="53.0" lengthAdjust="spacing">RunJob He</text>
<path d="M109 328.2L109.7 330L111.7 330.1L110.1 331.4L110.6 333.3L109 332.2L107.4 333.3L107.9 331.4L106.3 330.1L108.3 330Z" fill="#0000ff"/>
<path d="M106.3 344L111.7 344L109 339.1Z" fill="#ff00ff"/>
<path d="M106.3 350L111.7 350L109 354.9Z" fill="#000000"/>
<path d="M106.3 360.8L111.7 360.8L109 365.7Z" fill="#00ff00"/>
<text x="119.5" y="334.8" font-size="11" textLength="23.3" lengthAdjust="spacing">AMS</text>
<text x="119.5" y="345.4" font-size="11" textLength="41.0" lengthAdjust="spacing">BESS 98</text>
<text x="119.5" y="356" font-size="11" textLength="62.0" lengthAdjust="spacing">CAPRICE 94</text>
<text x="119.5" y="366.6" font-size="11" textLength="62.0" lengthAdjust="spacing">CAPRICE 98</text>
<text x="133.2" y="192" font-size="11" fill="#ff0000" textLength="131.6" lengthAdjust="spacing">Old Bartol All-nucleon Flux</text>
<text x="163" y="266.8" font-size="11" textLength="105.7" lengthAdjust="spacing">Old Bartol Free p Flux</text>
</svg></body></html>
